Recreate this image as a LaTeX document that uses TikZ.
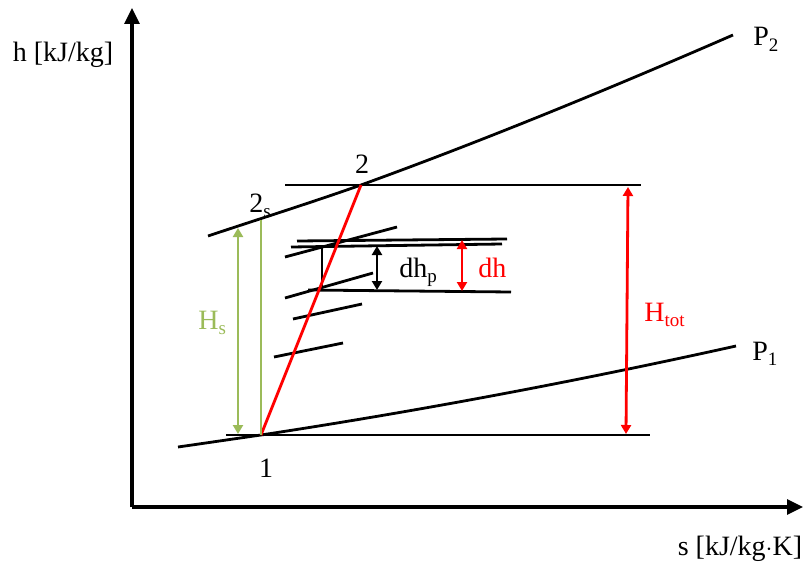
\documentclass[tikz,border=0pt]{standalone}
\usepackage{fontspec}
\setmainfont{Liberation Serif}
\usetikzlibrary{arrows.meta}
\definecolor{hsred}{HTML}{FF0000}
\definecolor{hsgreen}{HTML}{9BBB59}
\newcommand{\lowsub}[1]{\raisebox{-0.45ex}{\fontsize{19}{19}\selectfont #1}}

\begin{document}
\begin{tikzpicture}[x=1pt, y=-1pt, line width=2.8pt,
    lbl/.style={inner sep=0pt, font=\fontsize{28}{32}\selectfont},
    axis/.style={line width=3.2pt, -{Triangle[length=16pt,width=15pt]}},
    dim/.style={{Triangle[length=9pt,width=10pt]}-{Triangle[length=9pt,width=10pt]}}]
    \useasboundingbox (0,0) rectangle (806,567);
    % axes
    \coordinate (o) at (132,507);
    \coordinate (ytop) at (132,8);
    \coordinate (xend) at (803,507);
    \draw[axis] (o) -- (ytop);
    \draw[axis] (o) -- (xend);
    \node[lbl, anchor=base] (hlab) at (63,62) {h [kJ/kg]};
    \node[lbl, anchor=base] (slab) at (740,555) {s [kJ/kg$\cdot$K]};
    % states
    \coordinate (p1) at (261,435);
    \coordinate (p2) at (361,185);
    \coordinate (p2s) at (261,220);
    % isobars
    \coordinate (a2) at (208,236);
    \coordinate (b2) at (733,35);
    \coordinate (a1) at (178,447);
    \coordinate (b1) at (736,346);
    \draw (a2) .. controls (259,219) and (310,203) .. (p2)
               .. controls (485,140) and (609,89) .. (b2);
    \draw (a1) .. controls (206,443) and (233,439) .. (p1)
               .. controls (419,411) and (578,381) .. (b1);
    \node[lbl, anchor=base west] (lp2) at (752,46) {P\lowsub{2}};
    \node[lbl, anchor=base west] (lp1) at (751,360) {P\lowsub{1}};
    % level lines through 1 and 2
    \coordinate (l1a) at (226,435);
    \coordinate (l1b) at (650,435);
    \coordinate (l2a) at (285,185);
    \coordinate (l2b) at (641,185);
    \draw (l1a) -- (l1b);
    \draw (l2a) -- (l2b);
    \node[lbl, anchor=base] (n1) at (266,477) {1};
    \node[lbl, anchor=base] (n2) at (362,174) {2};
    \node[lbl, anchor=base west] (n2s) at (248,212) {2\lowsub{s}};
    % short isobars of the stages
    \coordinate (s1a) at (285,257); \coordinate (s1b) at (397,227);
    \coordinate (s2a) at (285,298); \coordinate (s2b) at (373,273);
    \coordinate (s3a) at (293,319); \coordinate (s3b) at (362,304);
    \coordinate (s4a) at (274,357); \coordinate (s4b) at (343,343);
    \draw (s1a) -- (s1b);
    \draw (s2a) -- (s2b);
    \draw (s3a) -- (s3b);
    \draw (s4a) -- (s4b);
    \coordinate (t1a) at (297,241); \coordinate (t1b) at (507,239);
    \coordinate (t2a) at (291,247); \coordinate (t2b) at (502,244);
    \coordinate (t3a) at (308,290); \coordinate (t3b) at (511,292);
    \draw (t1a) -- (t1b);
    \draw (t2a) -- (t2b);
    \draw (t3a) -- (t3b);
    \coordinate (va) at (322,246);
    \coordinate (vb) at (322,288);
    \draw (va) -- (vb);
    % real process
    \draw[hsred] (p1) -- (p2);
    % stage drops
    \coordinate (dpa) at (377,246);
    \coordinate (dpb) at (377,290);
    \draw[dim] (dpa) -- (dpb);
    \node[lbl, anchor=base west] (ldhp) at (398,277) {dh\lowsub{p}};
    \coordinate (dha) at (462,240);
    \coordinate (dhb) at (462,291);
    \draw[dim, hsred] (dha) -- (dhb);
    \node[lbl, anchor=base west, text=hsred] (ldh) at (477,277) {dh};
    % isentropic drop
    \coordinate (hsa) at (238,228);
    \coordinate (hsb) at (238,434);
    \draw[dim, hsgreen] (hsa) -- (hsb);
    \draw[hsgreen] (p2s) -- (p1);
    \node[lbl, anchor=base west, text=hsgreen] (lhs) at (197,329) {H\lowsub{s}};
    % total drop
    \coordinate (hta) at (628,187);
    \coordinate (htb) at (626,434);
    \draw[dim, hsred] (hta) -- (htb);
    \node[lbl, anchor=base west, text=hsred] (lht) at (643,321) {H\lowsub{tot}};
\end{tikzpicture}
\end{document}
